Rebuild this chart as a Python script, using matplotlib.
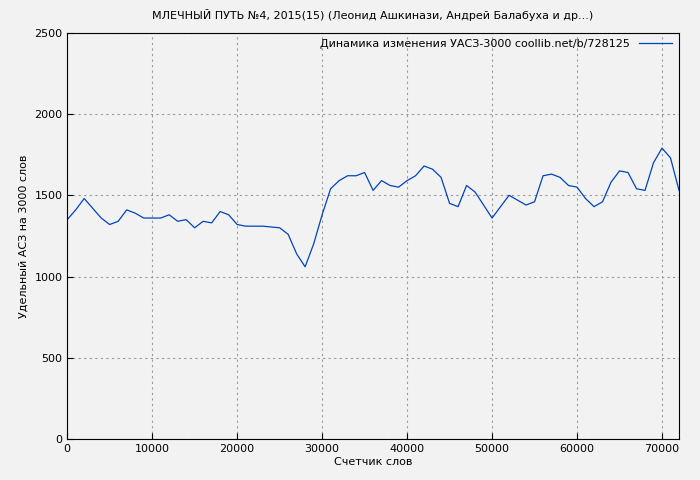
import matplotlib
matplotlib.use('Agg')
import matplotlib.pyplot as plt
import numpy as np

# счетчик слов (тыс.) и УАСЗ
words = np.arange(0, 73) * 1000
uasz = [1350, 1410, 1480, 1420, 1360, 1320, 1340, 1410, 1390, 1360,
        1360, 1360, 1380, 1340, 1350, 1300, 1340, 1330, 1400, 1380,
        1320, 1310, 1310, 1310, 1305, 1300, 1260, 1140, 1060, 1200,
        1380, 1540, 1590, 1620, 1620, 1640, 1530, 1590, 1560, 1550,
        1590, 1620, 1680, 1660, 1610, 1450, 1430, 1560, 1520, 1440,
        1360, 1430, 1500, 1470, 1440, 1460, 1620, 1630, 1610, 1560,
        1550, 1480, 1430, 1460, 1580, 1650, 1640, 1540, 1530, 1700,
        1790, 1730, 1530]

fig = plt.figure(figsize=(7, 4.8), dpi=100, facecolor='#f2f2f2')
ax = fig.add_axes([0.096, 0.085, 0.874, 0.847])
ax.set_facecolor('#f2f2f2')
ax.plot(words, uasz, color='#0044bb', linewidth=0.9,
        label='Динамика изменения УАСЗ-3000 coollib.net/b/728125')
ax.set_xlim(0, 72000)
ax.set_ylim(0, 2500)
ax.set_xticks(range(0, 72000, 10000))
ax.set_yticks(range(0, 2501, 500))
ax.grid(True, linestyle=(0, (2, 3)), color='#999999', linewidth=0.8)
ax.tick_params(labelsize=8, direction='in', length=4)
ax.set_xlabel('Счетчик слов', fontsize=8, labelpad=2)
ax.set_ylabel('Удельный АСЗ на 3000 слов', fontsize=8)
ax.set_title('МЛЕЧНЫЙ ПУТЬ №4, 2015(15) (Леонид Ашкинази, Андрей Балабуха и др...)',
             fontsize=8, pad=10)
ax.legend(loc='upper right', fontsize=8, frameon=False, markerfirst=False,
          handlelength=3, borderaxespad=0.2)
fig.savefig('out.png', dpi=100, facecolor='#f2f2f2')
